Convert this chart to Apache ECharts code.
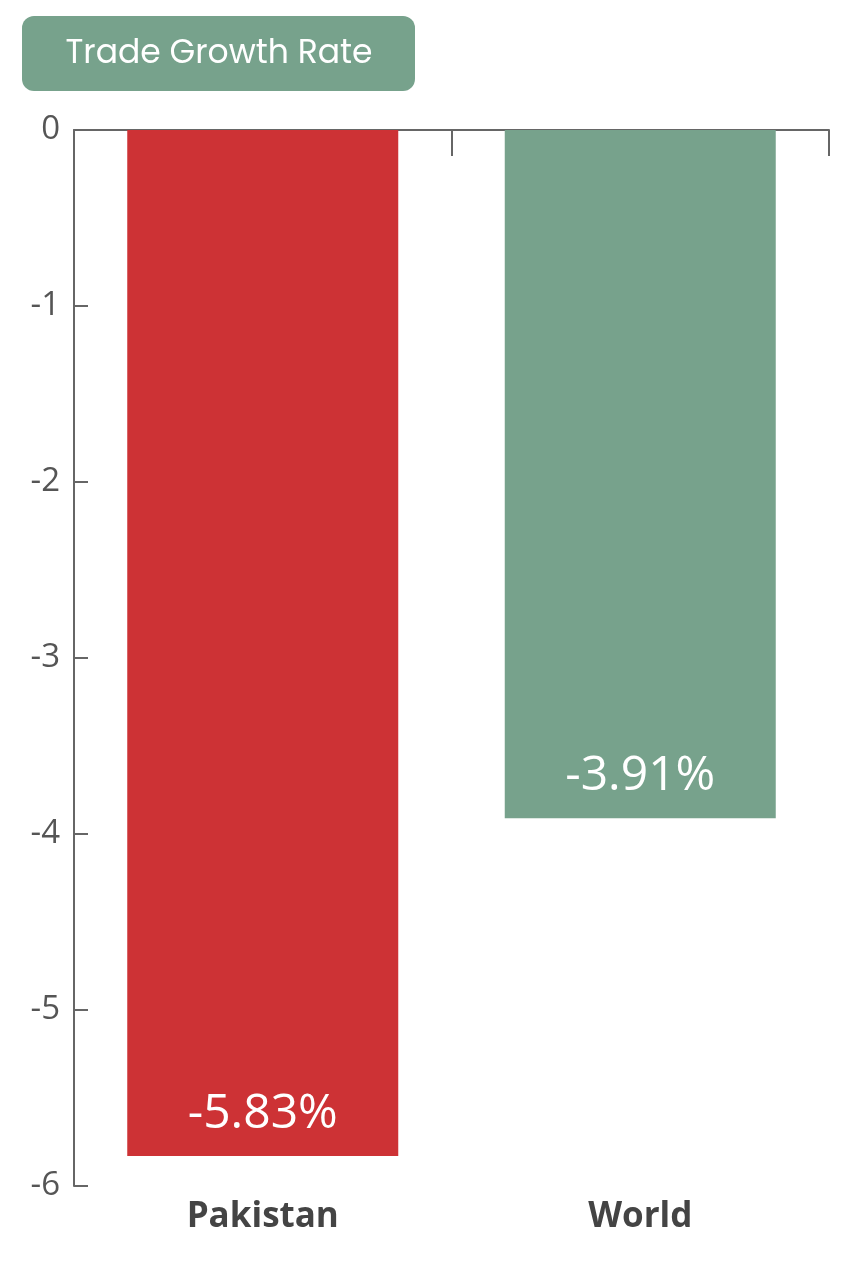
<!DOCTYPE html>
<html><head><meta charset="utf-8">
<script src="https://cdn.jsdelivr.net/npm/echarts@6/dist/echarts.min.js"></script>
<style>html,body{margin:0;padding:0;background:#fff}#c{width:857px;height:1280px}</style>
</head><body><div id="c"></div>
<script>
const categories = ['Pakistan', 'World'];
const values = [-5.83, -3.91];
const barColors = ['#cd3235', '#77a28c'];
const yTicks = [0, -1, -2, -3, -4, -5, -6];
const titleText = 'Trade Growth Rate';

const chart = echarts.init(document.getElementById('c'));
const grid = {left: 74, right: 28, top: 130, bottom: 94};
chart.setOption({
  backgroundColor: '#fff',
  animation: false,
  grid: grid,
  graphic: [
    {type: 'rect', left: 22, top: 16, shape: {width: 393, height: 75, r: 12}, style: {fill: '#77a28c'}},
    {type: 'text', x: 219, y: 55, style: {text: titleText, fill: '#fff', font: '400 33px "Poppins","Inter","Open Sans",sans-serif', textAlign: 'center', textVerticalAlign: 'middle'}}
  ],
  xAxis: [
    {type: 'category', data: categories, position: 'top',
     axisLine: {show: true, onZero: false, lineStyle: {color: '#666', width: 2}},
     axisTick: {show: true, inside: true, length: 26, lineStyle: {color: '#666', width: 2}},
     axisLabel: {show: false}},
    {type: 'category', data: categories, position: 'bottom',
     axisLine: {show: false}, axisTick: {show: false},
     axisLabel: {show: true, color: '#444', fontSize: 35, fontWeight: 'bold', fontFamily: '"Open Sans","DejaVu Sans",sans-serif', margin: 14}}
  ],
  yAxis: {
    type: 'value', min: -6, max: 0, interval: 1,
    axisLine: {show: true, lineStyle: {color: '#666', width: 2}},
    axisTick: {show: true, inside: true, length: 14, lineStyle: {color: '#666', width: 2}},
    splitLine: {show: false},
    axisLabel: {color: '#555', fontSize: 33, fontFamily: '"Open Sans",sans-serif', fontWeight: 400, margin: 14,
      formatter: v => yTicks.includes(v) ? String(v) : ''}
  },
  series: [{
    type: 'bar', xAxisIndex: 0, barWidth: 271,
    data: values.map((v, i) => ({value: v, itemStyle: {color: barColors[i]}})),
    label: {show: true, position: 'insideBottom', distance: 18, color: '#fff', fontSize: 48,
      fontFamily: '"Open Sans",sans-serif', fontWeight: 400, formatter: p => p.value.toFixed(2) + '%'}
  }]
});
</script></body></html>
